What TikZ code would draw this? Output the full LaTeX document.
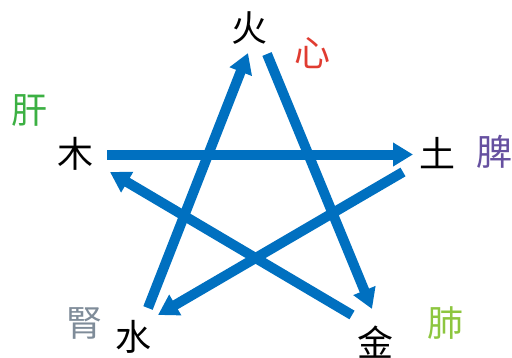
\documentclass[tikz,border=0pt]{standalone}
\usepackage{fontspec}
\newfontfamily\cjk{Noto Sans CJK SC}
\usetikzlibrary{arrows.meta}
\definecolor{arrowblue}{RGB}{0,112,192}
\definecolor{xinred}{RGB}{224,60,49}
\definecolor{gangreen}{RGB}{60,176,67}
\definecolor{pipurple}{RGB}{102,80,160}
\definecolor{shengray}{RGB}{127,140,153}
\definecolor{feigreen}{RGB}{141,198,63}
\begin{document}
\begin{tikzpicture}[x=0.75pt,y=-0.75pt,
  elem/.style={font=\cjk\fontsize{27}{30}\selectfont, text=black, inner sep=0pt},
  organ/.style={font=\cjk\fontsize{27}{30}\selectfont, inner sep=0pt},
  flow/.style={draw=arrowblue, line width=7.5pt, -{Triangle[length=15pt,width=17pt]}}]
\useasboundingbox (0,0) rectangle (512,358);
% element labels
\node[elem] (huo) at (250,28) {火};
\node[elem] (mu) at (75,154) {木};
\node[elem] (tu) at (437,153) {土};
\node[elem] (shui) at (134,337) {水};
\node[elem] (jin) at (375,342) {金};
% organ labels
\node[organ, text=xinred] (xin) at (313,53) {心};
\node[organ, text=gangreen] (gan) at (30,110) {肝};
\node[organ, text=pipurple] (pi) at (494,152) {脾};
\node[organ, text=shengray] (shen) at (84,323) {腎};
\node[organ, text=feigreen] (fei) at (445,323) {肺};
% arrow endpoints
\coordinate (shuiA) at (148,308);
\coordinate (huoB) at (248,53);
\coordinate (huoA) at (267,54);
\coordinate (jinB) at (372,309);
\coordinate (jinA) at (352,315);
\coordinate (muB) at (110,172);
\coordinate (muA) at (107,154.5);
\coordinate (tuB) at (413,154.5);
\coordinate (tuA) at (403,172);
\coordinate (shuiB) at (158,315);
% arrows
\draw[flow] (shuiA) -- (huoB);
\draw[flow] (huoA) -- (jinB);
\draw[flow] (jinA) -- (muB);
\draw[flow] (muA) -- (tuB);
\draw[flow] (tuA) -- (shuiB);
\end{tikzpicture}
\end{document}
